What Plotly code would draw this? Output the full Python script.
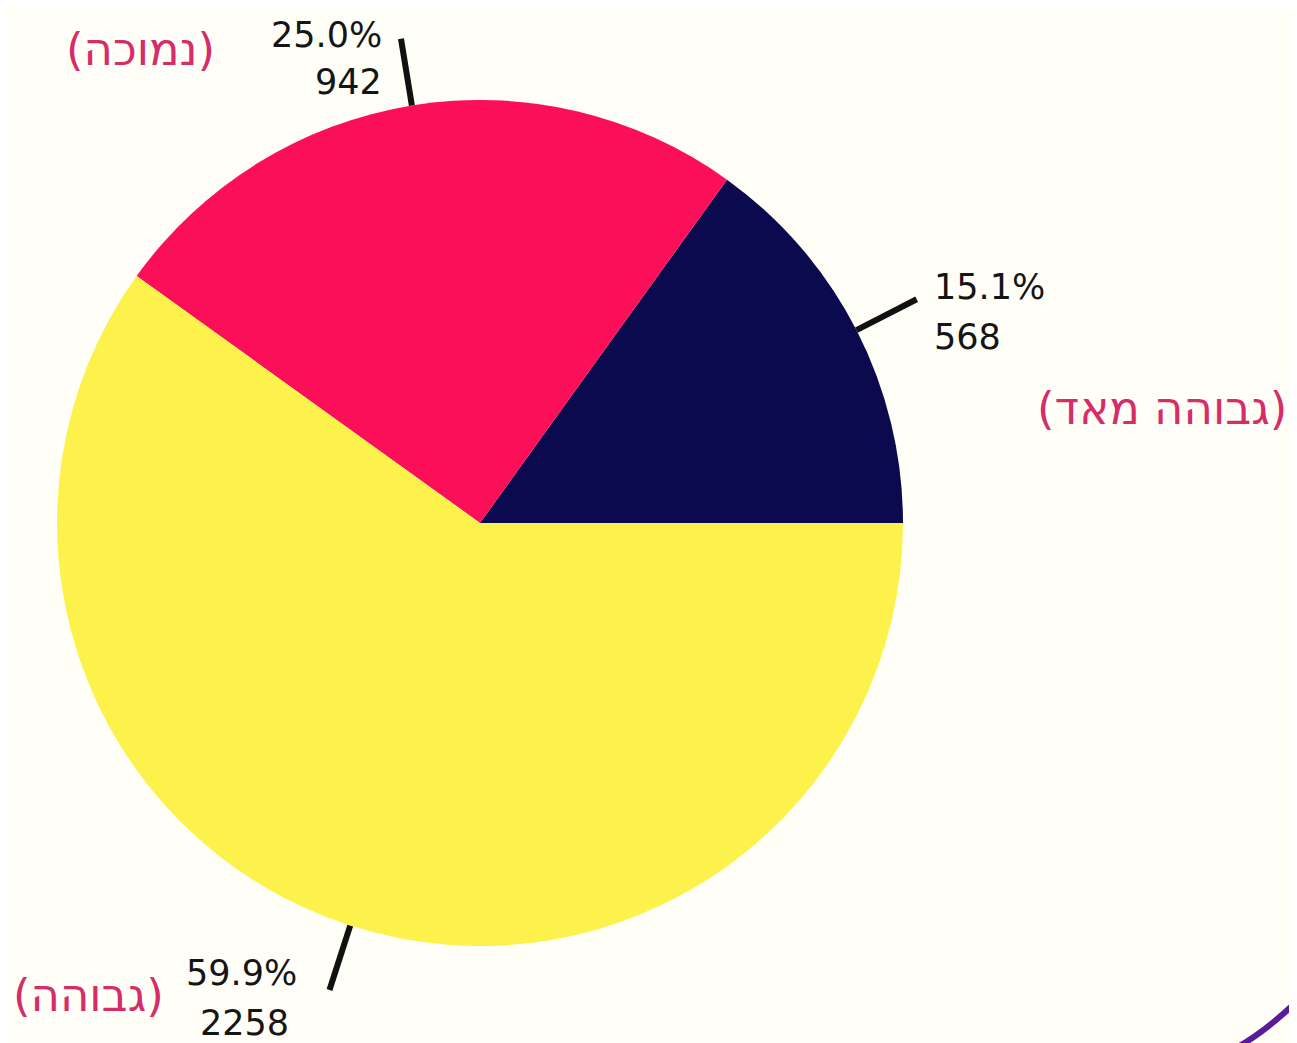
import math
import plotly.graph_objects as go

# ---- data ----
categories = ["גבוהה מאד", "נמוכה", "גבוהה"]
counts = [568, 942, 2258]
slice_colors = ["#0c0a4f", "#fb0f58", "#fdf24c"]

# ---- layout constants (pixels, in screenshot coordinates) ----
W, H = 1297, 1043
OFF = 8  # page body margin
CX, CY, R = 480, 523, 423
LINE_IN, LINE_OUT = 1.0, 1.16

# per-slice text offsets from the leader-line outer end
offsets = [
    dict(pct=(15, -12, "left"), cnt=(15, 38, "left"), name=(372, 109, "right")),
    dict(pct=(-17, -4, "right"), cnt=(-17, 43, "right"), name=(-184, 11, "right")),
    dict(pct=(-30, -17, "right"), cnt=(-38, 33, "right"), name=(-163, 5, "right")),
]


def px(x):
    return (x - OFF) / W


def py(y):
    return 1 - (y - OFF) / H


total = sum(counts)
pcts = [100 * c / total for c in counts]
# counterclockwise pies in plotly end the first slice at the rotation angle;
# the first slice should start at 3 o'clock
rotation = 90 - 360.0 * counts[0] / total

fig = go.Figure(
    go.Pie(
        values=counts,
        labels=categories,
        sort=False,
        direction="counterclockwise",
        rotation=rotation,
        marker=dict(colors=slice_colors, line=dict(width=0)),
        textinfo="none",
        hoverinfo="label+value+percent",
        domain=dict(x=[px(CX - R), px(CX + R)], y=[py(CY + R), py(CY - R)]),
        showlegend=False,
    )
)

shapes = []
annotations = []
num_font = dict(family="DejaVu Sans, Liberation Sans, Arial", size=35, color="#151515")
heb_font = dict(family="DejaVu Sans, Liberation Sans, Arial", size=45, color="#d62c68")

start = 0.0
for i, (cat, c, p) in enumerate(zip(categories, counts, pcts)):
    sweep = 360.0 * c / total
    mid = math.radians(start + sweep / 2)
    start += sweep
    x0 = CX + R * LINE_IN * math.cos(mid)
    y0 = CY - R * LINE_IN * math.sin(mid)
    x1 = CX + R * LINE_OUT * math.cos(mid)
    y1 = CY - R * LINE_OUT * math.sin(mid)
    shapes.append(dict(type="line", xref="paper", yref="paper",
                       x0=px(x0), y0=py(y0), x1=px(x1), y1=py(y1),
                       line=dict(color="#111111", width=6)))
    o = offsets[i]
    dx, dy, anc = o["pct"]
    annotations.append(dict(x=px(x1 + dx), y=py(y1 + dy), xref="paper", yref="paper",
                            text=f"{p:.1f}%", showarrow=False, xanchor=anc, yanchor="middle",
                            font=num_font))
    dx, dy, anc = o["cnt"]
    annotations.append(dict(x=px(x1 + dx), y=py(y1 + dy), xref="paper", yref="paper",
                            text=f"{c}", showarrow=False, xanchor=anc, yanchor="middle",
                            font=num_font))
    dx, dy, anc = o["name"]
    annotations.append(dict(x=px(x1 + dx), y=py(y1 + dy), xref="paper", yref="paper",
                            text=f"({cat})", showarrow=False, xanchor=anc, yanchor="middle",
                            font=heb_font))

# decorative purple arc at the bottom-right corner
shapes.append(dict(type="path", xref="paper", yref="paper",
                   path=f"M {px(1236)} {py(1048)} Q {px(1268)} {py(1030)} {px(1300)} {py(998)}",
                   line=dict(color="#5a1a9a", width=6)))

fig.update_layout(
    width=W, height=H,
    margin=dict(l=0, r=0, t=0, b=0),
    paper_bgcolor="#fffff7",
    plot_bgcolor="#fffff7",
    shapes=shapes,
    annotations=annotations,
)

fig.write_html("out.html")
